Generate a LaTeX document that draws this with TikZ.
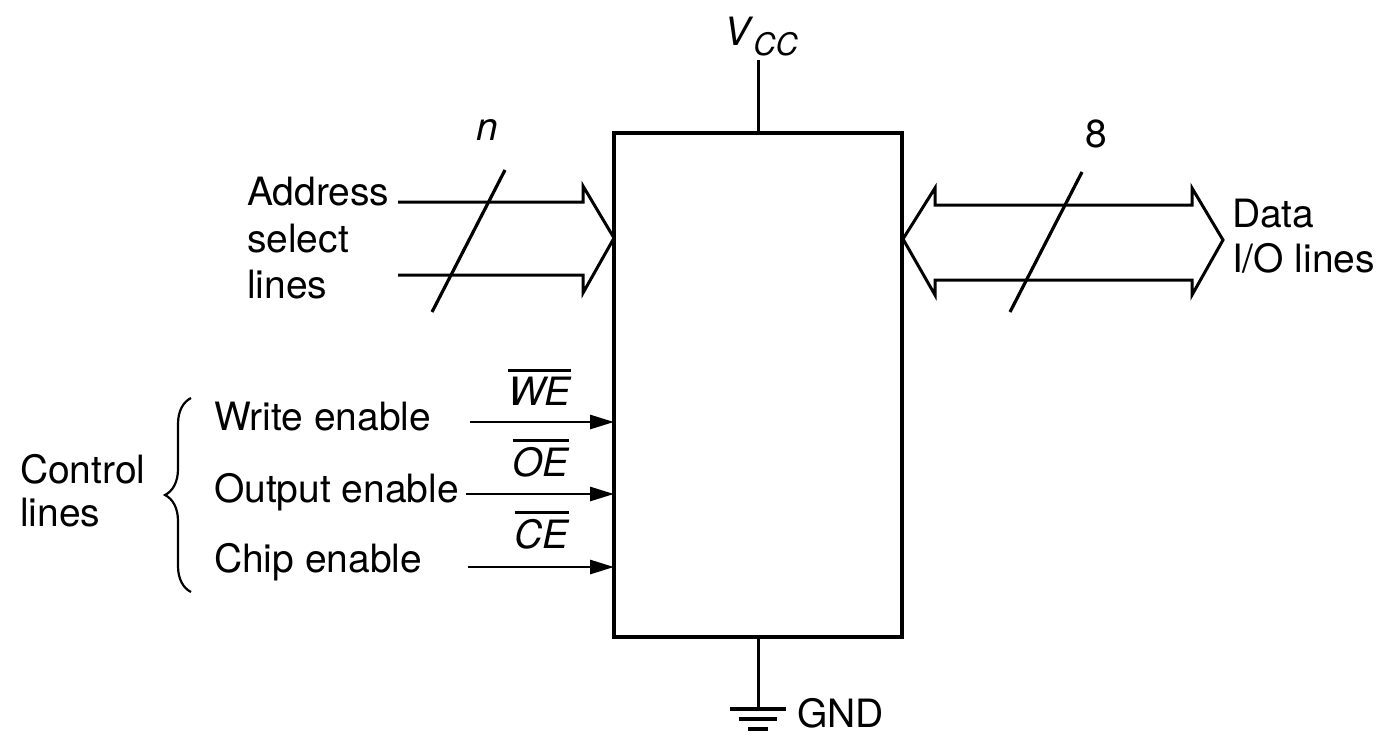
\documentclass[tikz,border=0pt]{standalone}
\usepackage{fontspec}
\setmainfont{TeX Gyre Heros}
\usetikzlibrary{arrows.meta,decorations.pathreplacing}
\newcommand{\ovl}[1]{\vbox{\hrule height 2.6pt\kern 5pt\hbox{\itshape #1}}}
\begin{document}
\begin{tikzpicture}[x=1pt,y=-1pt,
  every node/.style={inner sep=0pt, outer sep=0pt, font=\fontsize{39}{47}\selectfont},
  lbl/.style={anchor=base west},
  wire/.style={line width=3pt},
  gline/.style={line width=4.2pt},
  bus/.style={line width=3pt, line join=miter},
  slash/.style={line width=3.2pt},
  ctl/.style={line width=2.8pt, -{Triangle[length=24pt,width=14pt]}}]
\useasboundingbox (0,0) rectangle (1381,740);
% chip
\node[draw, line width=3.6pt, minimum width=288pt, minimum height=504pt, anchor=north west] (chip) at (614,133) {};
% Vcc
\coordinate (vcctop) at (758,60);
\draw[wire] (vcctop) -- (chip.north);
\node[lbl] (vcc) at (724,45) {\textit{V}\raisebox{-10pt}{\fontsize{31}{36}\selectfont\itshape CC}};
% GND
\coordinate (gnd) at (758,709);
\draw[wire] (chip.south) -- (gnd);
\draw[gline] ([xshift=-28pt]gnd) -- ([xshift=28pt]gnd);
\draw[gline] ([xshift=-19pt,yshift=-10pt]gnd) -- ([xshift=19pt,yshift=-10pt]gnd);
\draw[gline] ([xshift=-10pt,yshift=-20pt]gnd) -- ([xshift=10pt,yshift=-20pt]gnd);
\node[lbl] (gndl) at (797,727) {GND};
% address bus
\coordinate (atip) at (614,238);
\draw[bus] (398,202) -- (583,202) -- (583,186) -- (atip) -- (583,293) -- (583,275) -- (398,275);
\coordinate (as1) at (432,312);
\coordinate (as2) at (505,170);
\draw[slash] (as1) -- (as2);
\node[lbl] (n) at (476,140) {\itshape n};
\node[lbl] (ad1) at (247,205) {Address};
\node[lbl] (ad2) at (247,252) {select};
\node[lbl] (ad3) at (247,298) {lines};
% data bus
\coordinate (dtip) at (903,239);
\draw[bus] (dtip) -- (935,188) -- (935,205) -- (1192,205) -- (1192,188) -- (1223,240) -- (1192,295) -- (1192,280) -- (935,280) -- (935,295) -- cycle;
\coordinate (ds1) at (1010,312);
\coordinate (ds2) at (1082,172);
\draw[slash] (ds1) -- (ds2);
\node[lbl] (eight) at (1085,147) {8};
\node[lbl] (d1) at (1232,227) {Data};
\node[lbl] (d2) at (1232,272) {I/O lines};
% control lines
\coordinate (we) at (470,422);
\coordinate (oe) at (466,494);
\coordinate (ce) at (468,567);
\draw[ctl] (we) -- (chip.west |- we);
\draw[ctl] (oe) -- (chip.west |- oe);
\draw[ctl] (ce) -- (chip.west |- ce);
\node[anchor=base east] (wel) at (571,405) {\ovl{WE}};
\node[anchor=base east] (oel) at (569,476) {\ovl{OE}};
\node[anchor=base east] (cel) at (569,548) {\ovl{CE}};
\node[lbl] (wt) at (214,430) {Write enable};
\node[lbl] (ot) at (214,502) {Output enable};
\node[lbl] (ct) at (214,572) {Chip enable};
\coordinate (br1) at (191,592);
\coordinate (br2) at (191,398);
\draw[line width=2.2pt, decorate, decoration={brace, amplitude=26pt}] (br1) -- (br2);
\node[lbl] (cl1) at (20,483) {Control};
\node[lbl] (cl2) at (20,526) {lines};
\end{tikzpicture}
\end{document}
